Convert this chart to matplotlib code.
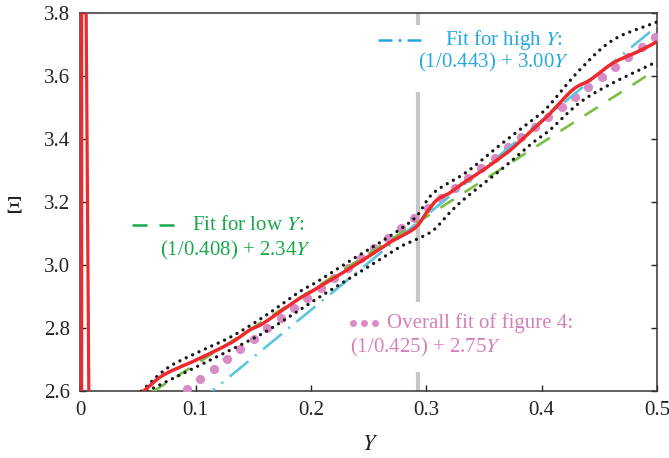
import matplotlib
matplotlib.use("Agg")
import matplotlib.pyplot as plt
from matplotlib.lines import Line2D
from matplotlib.patches import Rectangle
import numpy as np

plt.rcParams['font.family'] = ['Liberation Serif', 'DejaVu Serif']
plt.rcParams['mathtext.fontset'] = 'stix'

meas_Y = [0.055, 0.072, 0.10, 0.13, 0.147, 0.159, 0.188, 0.20, 0.225, 0.249,
          0.269, 0.29, 0.30, 0.309, 0.32, 0.332, 0.348, 0.358, 0.373, 0.392,
          0.406, 0.427, 0.442, 0.462, 0.483, 0.50]
meas_theta = [2.60, 2.651, 2.698, 2.752, 2.794, 2.816, 2.889, 2.915, 2.97, 3.025,
              3.073, 3.117, 3.165, 3.206, 3.228, 3.26, 3.298, 3.324, 3.365, 3.429,
              3.476, 3.556, 3.587, 3.641, 3.676, 3.708]

# spike near Y = 0
spike_Y = [0.0075, 0.005, 0.0012, 0.0012]
spike_theta = [2.55, 3.85, 3.85, 2.55]

# confidence band
upper_Y = [0.053, 0.075, 0.10, 0.13, 0.16, 0.19, 0.205, 0.235, 0.263, 0.29,
           0.306, 0.335, 0.364, 0.392, 0.405, 0.433, 0.462, 0.50]
upper_theta = [2.60, 2.672, 2.72, 2.771, 2.838, 2.915, 2.946, 3.016, 3.079, 3.149,
               3.228, 3.295, 3.381, 3.46, 3.50, 3.619, 3.714, 3.771]
lower_Y = [0.058, 0.10, 0.13, 0.16, 0.19, 0.205, 0.25, 0.277, 0.29, 0.306,
           0.32, 0.335, 0.364, 0.392, 0.407, 0.433, 0.462, 0.50]
lower_theta = [2.60, 2.676, 2.73, 2.787, 2.857, 2.893, 2.995, 3.057, 3.079, 3.11,
               3.165, 3.216, 3.30, 3.387, 3.428, 3.515, 3.578, 3.645]

# fits: theta = 1/a + b*Y
low_fit = (0.408, 2.34)
high_fit = (0.443, 3.00)
overall_fit = (0.425, 2.75)
Y_split = 0.293

xticks = [0, 0.1, 0.2, 0.3, 0.4, 0.5]
xtick_labels = ['0', '0.1', '0.2', '0.3', '0.4', '0.5']
yticks = [2.6, 2.8, 3.0, 3.2, 3.4, 3.6, 3.8]

RED = '#ee2a2e'
GREEN = '#79bf43'
GREEN_TXT = '#1aa84b'
CYAN = '#5bc6dc'
CYAN_TXT = '#27a9e1'
PINK = '#d98bc5'
PINK_TXT = '#d67fba'
GREY = '#c6c6c8'


def smooth(x, y, n=12):
    # catmull-rom through the read points
    x = np.asarray(x, float)
    y = np.asarray(y, float)
    px = np.concatenate([[2 * x[0] - x[1]], x, [2 * x[-1] - x[-2]]])
    py = np.concatenate([[2 * y[0] - y[1]], y, [2 * y[-1] - y[-2]]])
    t = np.linspace(0, 1, n, endpoint=False)[:, None]
    res = []
    for p in (px, py):
        p0, p1, p2, p3 = p[:-3], p[1:-2], p[2:-1], p[3:]
        seg = 0.5 * (2 * p1 + (-p0 + p2) * t + (2 * p0 - 5 * p1 + 4 * p2 - p3) * t ** 2
                     + (-p0 + 3 * p1 - 3 * p2 + p3) * t ** 3)
        res.append(np.append(seg.T.ravel(), p[-2]))
    return res[0], res[1]


fig = plt.figure(figsize=(6.69, 4.58), dpi=100)
ax = fig.add_axes([0.120, 0.146, 0.862, 0.826])

Yline = np.linspace(0, 0.5, 200)


def fit_line(p, Y=Yline):
    return 1.0 / p[0] + p[1] * Y


ax.axvline(Y_split, color=GREY, lw=3, zorder=1)

# white boxes behind labels interrupt the grey line
ax.add_patch(Rectangle((0.572, 0.791), 0.286, 0.177, transform=ax.transAxes,
                       facecolor='white', edgecolor='none', zorder=2))
ax.add_patch(Rectangle((0.45, 0.050), 0.408, 0.185, transform=ax.transAxes,
                       facecolor='white', edgecolor='none', zorder=2))

Ydots = np.arange(0.0925, 0.5, 0.0116)
ax.plot(Ydots, fit_line(overall_fit, Ydots), 'o', color=PINK, ms=6.6, mew=0,
        zorder=3)
ax.plot(Yline, fit_line(low_fit), color=GREEN, lw=1.9,
        linestyle=(0, (6, 4.8)), zorder=4)
ax.plot(Yline, fit_line(high_fit), color=CYAN, lw=1.9,
        linestyle=(0, (9.2, 3.2, 0.8, 3.2)), zorder=4)
ux, uy = smooth(upper_Y, upper_theta)
lx, ly = smooth(lower_Y, lower_theta)
ax.plot(ux, uy, color='#1a1a1a', lw=2.4,
        linestyle=(0, (0.01, 2.1)), dash_capstyle='round', zorder=5)
ax.plot(lx, ly, color='#1a1a1a', lw=2.4,
        linestyle=(0, (0.01, 2.1)), dash_capstyle='round', zorder=5)
mx, my = smooth(meas_Y, meas_theta)
ax.plot(mx, my, color=RED, lw=2.5, zorder=6, solid_capstyle='round')
ax.plot(spike_Y, spike_theta, color=RED, lw=2.3, zorder=6)

ax.set_xlim(0, 0.5)
ax.set_ylim(2.6, 3.8)
ax.set_xticks(xticks)
ax.set_xticklabels(xtick_labels)
ax.set_yticks(yticks)
ax.set_yticklabels(['%.1f' % v for v in yticks])
ax.tick_params(direction='in', length=4, width=1, labelsize=15, pad=7,
               colors='#222222', right=True, top=False)
for s in ax.spines.values():
    s.set_color('#333333')
    s.set_linewidth(1.1)

# legend-like annotations
ax.add_line(Line2D([0.516, 0.594], [0.929, 0.929], transform=ax.transAxes,
                   color=CYAN_TXT, lw=1.8, linestyle=(0, (5.6, 2.4, 1.2, 2.4, 5.6, 20))))
ax.text(0.633, 0.929, 'Fit for high $\\mathit{Y}$:', transform=ax.transAxes,
        color=CYAN_TXT, fontsize=15, va='center', ha='left', zorder=7)
ax.text(0.586, 0.868, '(1/0.443) + 3.00$\\mathit{Y}$', transform=ax.transAxes,
        color=CYAN_TXT, fontsize=15, va='center', ha='left', zorder=7)

ax.add_line(Line2D([0.090, 0.168], [0.439, 0.439], transform=ax.transAxes,
                   color=GREEN_TXT, lw=1.8, linestyle=(0, (6, 4.8))))
ax.text(0.194, 0.439, 'Fit for low $\\mathit{Y}$:', transform=ax.transAxes,
        color=GREEN_TXT, fontsize=15, va='center', ha='left', zorder=7)
ax.text(0.138, 0.373, '(1/0.408) + 2.34$\\mathit{Y}$', transform=ax.transAxes,
        color=GREEN_TXT, fontsize=15, va='center', ha='left', zorder=7)

ax.plot([0.473, 0.492, 0.511], [0.18, 0.18, 0.18], 'o', color=PINK, ms=5,
        mew=0, transform=ax.transAxes, zorder=7)
ax.text(0.532, 0.18, 'Overall fit of figure 4:', transform=ax.transAxes,
        color=PINK_TXT, fontsize=15, va='center', ha='left', zorder=7)
ax.text(0.468, 0.116, '(1/0.425) + 2.75$\\mathit{Y}$', transform=ax.transAxes,
        color=PINK_TXT, fontsize=15, va='center', ha='left', zorder=7)

fig.text(0.553, 0.028, '$Y$', fontsize=16, ha='center', va='center',
         color='#222222')
fig.text(0.022, 0.548, '$\\Xi$', fontsize=17, ha='center', va='center',
         color='#222222')

fig.savefig('out.png', dpi=100)
